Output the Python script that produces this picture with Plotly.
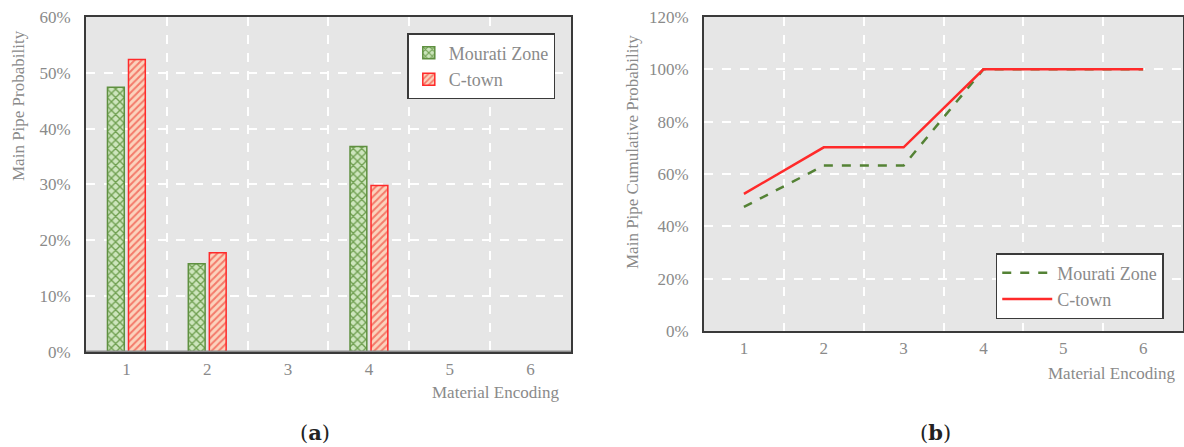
import plotly.graph_objects as go

categories = [1, 2, 3, 4, 5, 6]
tick_labels = ["1", "2", "3", "4", "5", "6"]
mourati_prob = [0.474, 0.158, 0.0, 0.368, 0.0, 0.0]
ctown_prob = [0.524, 0.178, 0.0, 0.298, 0.0, 0.0]
mourati_cum = [0.474, 0.632, 0.632, 1.0, 1.0, 1.0]
ctown_cum = [0.524, 0.702, 0.702, 1.0, 1.0, 1.0]

FONT = "Liberation Serif"
GRAY = "#8a8a8a"
GREEN = "#548235"
RED = "#ff2a2a"

fig = go.Figure()

fig.add_trace(go.Bar(
    x=categories, y=mourati_prob, name="Mourati Zone",
    xaxis="x", yaxis="y", legend="legend",
    marker=dict(color="#c6e0b4", line=dict(color="#5f9040", width=1.5),
                pattern=dict(shape="x", fgcolor="#6f9f50", bgcolor="#cde5bd",
                             size=6, solidity=0.4, fillmode="replace")),
))
fig.add_trace(go.Bar(
    x=categories, y=ctown_prob, name="C-town",
    xaxis="x", yaxis="y", legend="legend",
    marker=dict(color="#f8cbad", line=dict(color=RED, width=1.5),
                pattern=dict(shape="/", fgcolor="#f47a6a", bgcolor="#fbd3bd",
                             size=5, solidity=0.4, fillmode="replace")),
))
fig.add_trace(go.Scatter(
    x=categories, y=mourati_cum, name="Mourati Zone", mode="lines",
    xaxis="x2", yaxis="y2", legend="legend2",
    line=dict(color=GREEN, width=2.5, dash="dash"),
))
fig.add_trace(go.Scatter(
    x=categories, y=ctown_cum, name="C-town", mode="lines",
    xaxis="x2", yaxis="y2", legend="legend2",
    line=dict(color=RED, width=2.5),
))

grid_y = dict(showgrid=True, gridcolor="white", gridwidth=2, griddash="dash")
frame = dict(showline=True, linecolor="#3a3a3a", linewidth=2, mirror=True)
tickfont = dict(family=FONT, size=17, color=GRAY)

def xaxis_common(domain, anchor):
    return dict(domain=domain, anchor=anchor, range=[0.5, 6.5], automargin=False,
                tickmode="array", tickvals=categories, ticktext=tick_labels,
                showgrid=False, zeroline=False, ticks="outside", ticklen=1,
                tickcolor="rgba(0,0,0,0)", tickfont=tickfont,
                minor=dict(tick0=0.5, dtick=1, showgrid=True, gridcolor="white",
                           gridwidth=2, griddash="dash", ticks=""),
                **frame)

def yaxis_common(domain, anchor, top, step):
    return dict(domain=domain, anchor=anchor, range=[0, top], dtick=step,
                automargin=False, tickformat=".0%", tickfont=tickfont,
                ticks="outside", ticklen=10, tickcolor="rgba(0,0,0,0)",
                zeroline=False, **grid_y, **frame)

fig.update_layout(
    width=1184, height=447,
    margin=dict(l=0, r=0, t=0, b=0, autoexpand=False),
    paper_bgcolor="white",
    plot_bgcolor="#e6e6e6",
    barmode="group", bargap=0.48, bargroupgap=0.2,
    xaxis=xaxis_common([0.0726, 0.4823], "y"),
    yaxis=yaxis_common([0.2125, 0.962], "x", 0.6, 0.1),
    xaxis2=xaxis_common([0.5946, 0.9992], "y2"),
    yaxis2=yaxis_common([0.2595, 0.962], "x2", 1.2, 0.2),
    legend=dict(x=0.344, y=0.926, xanchor="left", yanchor="top",
                bgcolor="white", bordercolor="#3a3a3a", borderwidth=1.5,
                font=dict(family=FONT, size=18, color=GRAY),
                tracegroupgap=6, itemwidth=30),
    legend2=dict(x=0.841, y=0.434, xanchor="left", yanchor="top",
                 bgcolor="white", bordercolor="#3a3a3a", borderwidth=1.5,
                 font=dict(family=FONT, size=18, color=GRAY), itemwidth=50),
    showlegend=True,
)

# gray baseline on left chart
fig.add_shape(type="line", xref="x", yref="y", x0=0.5, x1=6.5, y0=0, y1=0,
              line=dict(color="#8c8c8c", width=3))

ann_font = dict(family=FONT, size=17, color=GRAY)
common = dict(xref="paper", yref="paper", showarrow=False, yanchor="middle")
fig.add_annotation(text="Main Pipe Probability", textangle=-90, x=18 / 1184,
                   y=(447 - 106) / 447, xanchor="center", font=ann_font, **common)
fig.add_annotation(text="Main Pipe Cumulative Probability", textangle=-90,
                   x=632 / 1184, y=(447 - 152) / 447, xanchor="center",
                   font=ann_font, **common)
fig.add_annotation(text="Material Encoding", x=561 / 1184, y=(447 - 392) / 447,
                   xanchor="right", font=ann_font, **common)
fig.add_annotation(text="Material Encoding", x=1177 / 1184, y=(447 - 373) / 447,
                   xanchor="right", font=ann_font, **common)
fig.add_annotation(text="(<b>a</b>)", x=315 / 1184, y=(447 - 432) / 447,
                   xanchor="center", font=dict(family="DejaVu Serif", size=21, color="#222"),
                   **common)
fig.add_annotation(text="(<b>b</b>)", x=935 / 1184, y=(447 - 432) / 447,
                   xanchor="center", font=dict(family="DejaVu Serif", size=21, color="#222"),
                   **common)

fig.write_html("out.html", config={"displayModeBar": False},
               post_script="document.body.style.margin='0';document.body.style.overflow='hidden';")
